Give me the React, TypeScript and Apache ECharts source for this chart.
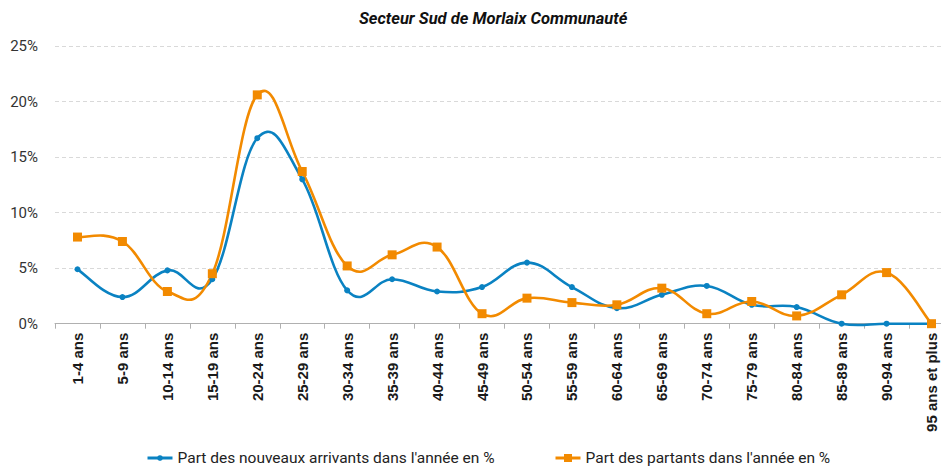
import React, { useEffect, useRef } from "react";
import * as echarts from "echarts";

const categories = [
  "1-4 ans", "5-9 ans", "10-14 ans", "15-19 ans", "20-24 ans", "25-29 ans",
  "30-34 ans", "35-39 ans", "40-44 ans", "45-49 ans", "50-54 ans", "55-59 ans",
  "60-64 ans", "65-69 ans", "70-74 ans", "75-79 ans", "80-84 ans", "85-89 ans",
  "90-94 ans", "95 ans et plus",
];

const arrivants = [
  4.9, 2.4, 4.8, 4.0, 16.7, 13.0, 3.0, 4.0, 2.9, 3.3,
  5.5, 3.3, 1.4, 2.6, 3.4, 1.7, 1.5, 0.0, 0.0, 0.0,
];

const partants = [
  7.8, 7.4, 2.9, 4.5, 20.6, 13.7, 5.2, 6.2, 6.9, 0.9,
  2.3, 1.9, 1.7, 3.2, 0.9, 2.0, 0.7, 2.6, 4.6, 0.0,
];

const seriesNames = [
  "Part des nouveaux arrivants dans l'année en %",
  "Part des partants dans l'année en %",
];

const title = "Secteur Sud de Morlaix Communauté";

const BLUE = "#0a82c2";
const ORANGE = "#f28a00";
const TENSION = 0.2;

// Smooth curve segment (Excel-like cardinal spline) drawn through the axes' scales
function curveSeries(values: number[], color: string, z: number) {
  return {
    type: "custom",
    z,
    silent: true,
    data: values.map((v, i) => [i, v]),
    encode: { x: 0, y: 1 },
    renderItem: (params: any, api: any) => {
      const i = params.dataIndex;
      const n = values.length;
      if (i >= n - 1) return null;
      const pt = (k: number) => {
        const kk = Math.max(0, Math.min(n - 1, k));
        return api.coord([kk, values[kk]]);
      };
      const p0 = pt(i - 1);
      const p1 = pt(i);
      const p2 = pt(i + 1);
      const p3 = pt(i + 2);
      return {
        type: "bezierCurve",
        shape: {
          x1: p1[0],
          y1: p1[1],
          x2: p2[0],
          y2: p2[1],
          cpx1: p1[0] + (p2[0] - p0[0]) * TENSION,
          cpy1: p1[1] + (p2[1] - p0[1]) * TENSION,
          cpx2: p2[0] - (p3[0] - p1[0]) * TENSION,
          cpy2: p2[1] - (p3[1] - p1[1]) * TENSION,
        },
        style: {
          stroke: color,
          lineWidth: 2.6,
          fill: "none",
          lineCap: "round",
        },
      };
    },
  };
}

export default function App() {
  const ref = useRef<HTMLDivElement>(null);

  useEffect(() => {
    if (!ref.current) return;
    const chart = echarts.init(ref.current, null, { renderer: "svg" });
    const legendText = {
      fontFamily: "Roboto",
      fontSize: 15.5,
      color: "#222",
    };
    chart.setOption({
      animation: false,
      backgroundColor: "#ffffff",
      title: {
        text: title,
        left: 354,
        top: 5,
        textStyle: {
          fontFamily: "Roboto",
          fontSize: 16.5,
          fontWeight: "bold",
          fontStyle: "italic",
          color: "#111",
        },
      },
      legend: [
        {
          data: [seriesNames[0]],
          left: 146,
          top: 450,
          padding: 0,
          itemWidth: 25,
          itemHeight: 7,
          lineStyle: { color: BLUE, width: 3, opacity: 1 },
          textStyle: legendText,
        },
        {
          data: [seriesNames[1]],
          left: 554,
          top: 450,
          padding: 0,
          itemWidth: 25,
          itemHeight: 10,
          lineStyle: { color: ORANGE, width: 3, opacity: 1 },
          textStyle: legendText,
        },
      ],
      grid: {
        left: 55,
        top: 46,
        width: 899,
        height: 277.7,
        containLabel: false,
      },
      xAxis: {
        type: "category",
        data: categories,
        boundaryGap: true,
        axisLine: { lineStyle: { color: "#b0b0b0", width: 1 } },
        axisTick: { show: true, length: 5, lineStyle: { color: "#b0b0b0" } },
        axisLabel: {
          rotate: 90,
          interval: 0,
          margin: 9,
          fontFamily: "'Liberation Sans', Arial, sans-serif",
          fontWeight: "bold",
          fontSize: 15,
          color: "#1a1a1a",
        },
      },
      yAxis: {
        type: "value",
        min: 0,
        max: 25,
        interval: 5,
        axisLine: { show: false },
        axisTick: { show: false },
        axisLabel: {
          formatter: "{value}%",
          margin: 17,
          fontFamily: "Roboto",
          fontSize: 15,
          color: "#333",
        },
        splitLine: {
          lineStyle: { color: "#d9d9d9", type: [4, 3], width: 1 },
        },
      },
      series: [
        curveSeries(arrivants, BLUE, 2),
        curveSeries(partants, ORANGE, 3),
        {
          name: seriesNames[0],
          type: "line",
          data: arrivants,
          z: 4,
          symbol: "circle",
          symbolSize: 6,
          showAllSymbol: true,
          lineStyle: { color: BLUE, width: 0, opacity: 0 },
          itemStyle: { color: BLUE },
        },
        {
          name: seriesNames[1],
          type: "line",
          data: partants,
          z: 5,
          symbol: "rect",
          symbolSize: 9,
          showAllSymbol: true,
          lineStyle: { color: ORANGE, width: 0, opacity: 0 },
          itemStyle: { color: ORANGE },
        },
      ],
    });
    return () => chart.dispose();
  }, []);

  return (
    <div
      style={{
        position: "fixed",
        left: 0,
        top: 0,
        width: 941,
        height: 466,
        overflow: "hidden",
        background: "#fff",
      }}
    >
      <div ref={ref} style={{ width: 960, height: 466 }} />
    </div>
  );
}
